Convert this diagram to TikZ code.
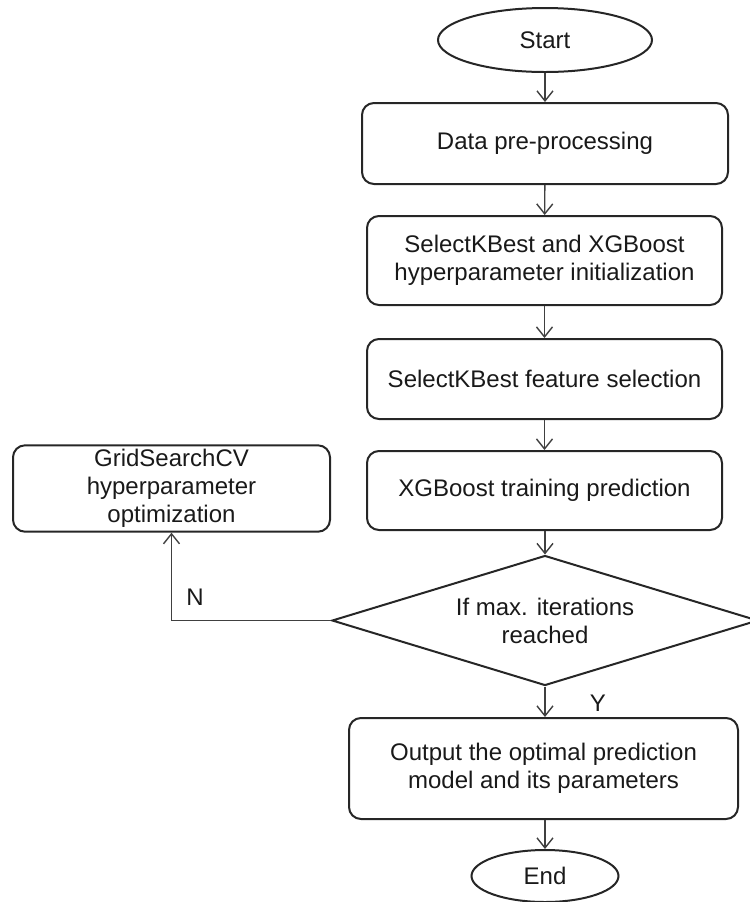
\documentclass[tikz,border=0pt]{standalone}
\usepackage{fontspec}
\setmainfont{Liberation Sans}
\usetikzlibrary{shapes,arrows,arrows.meta,positioning}

\tikzset{
  txt/.style={font=\fontsize{12}{14}\selectfont, text=black!90},
  box/.style={draw=black!85, line width=1pt, rounded corners=6pt, align=center, inner sep=2pt, txt},
  term/.style={draw=black!85, line width=1pt, ellipse, inner sep=0pt, txt},
  decision/.style={draw=black!85, line width=1pt, diamond, aspect=3.2, inner sep=0pt, align=center, txt},
  arrow/.style={draw=black!75, line width=0.7pt, -{Straight Barb[length=5pt,width=8pt]}}
}

\begin{document}
\begin{tikzpicture}[x=0.5pt,y=-0.5pt]
    \useasboundingbox (0,0) rectangle (750,902);

    % Terminals
    \node[term, minimum width=107pt, minimum height=32pt] (start) at (545,40) {Start};
    \node[term, minimum width=73.5pt, minimum height=26pt] (end) at (545,876) {End};

    % Process steps
    \node[box, minimum width=183pt, minimum height=40.5pt] (prep) at (545,143.5) {Data pre-processing};
    \node[box, minimum width=177.5pt, minimum height=44.5pt] (init) at (544.5,260.5) {SelectKBest and XGBoost\\hyperparameter initialization};
    \node[box, minimum width=177.5pt, minimum height=40pt] (sel) at (544.5,379) {SelectKBest feature selection};
    \node[box, minimum width=177.5pt, minimum height=39.5pt] (train) at (544.5,490.5) {XGBoost training prediction};
    \node[box, minimum width=194.5pt, minimum height=50.5pt] (out) at (543.5,768.5) {Output the optimal prediction\\model and its parameters};
    \node[box, minimum width=158.5pt, minimum height=41.5pt] (grid) at (171.5,488.5) {GridSearchCV\\hyperparameter\\optimization};

    % Decision
    \node[decision, minimum width=213pt, minimum height=65pt] (check) at (545,620.5) {If max. iterations\\reached};

    % Flow
    \draw[arrow] (start) -- (prep);
    \draw[arrow] (prep) -- (init);
    \draw[arrow] (init) -- (sel);
    \draw[arrow] (sel) -- (train);
    \draw[arrow] (train.south -| check.north) -- (check.north);
    \draw[arrow] (check.south) -- (check.south |- out.north);
    \draw[arrow] (out.south -| end.north) -- (end);
    \draw[arrow] (check.west) -| (grid.south);

    % Branch labels
    \node[txt] (lbln) at (195,597) {N};
    \node[txt] (lbly) at (598,703) {Y};
\end{tikzpicture}
\end{document}
